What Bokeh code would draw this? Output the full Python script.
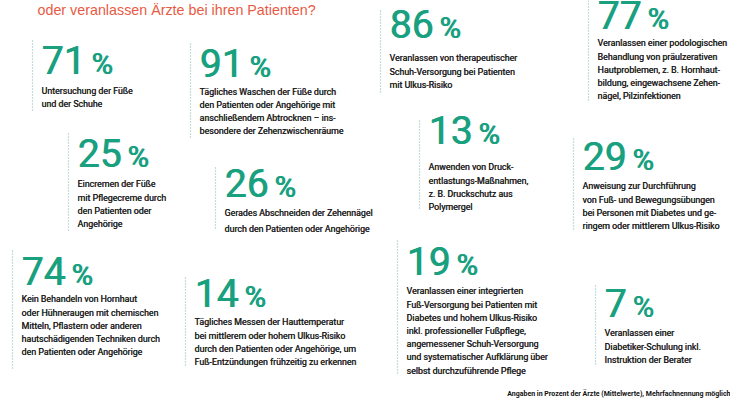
from bokeh.plotting import figure
from bokeh.models import ColumnDataSource, Range1d
from bokeh.core.properties import value
from bokeh.embed import file_html
from bokeh.resources import INLINE

# ---------------- data ----------------
title = "oder veranlassen Ärzte bei ihren Patienten?"
footnote = "Angaben in Prozent der Ärzte (Mittelwerte), Mehrfachnennung möglich"

percent_values = [71, 91, 86, 77, 25, 26, 13, 29, 74, 14, 19, 7]

descriptions = [
    ["Untersuchung der Füße", "und der Schuhe"],
    ["Tägliches Waschen der Füße durch", "den Patienten oder Angehörige mit",
     "anschließendem Abtrocknen – ins-", "besondere der Zehenzwischenräume"],
    ["Veranlassen von therapeutischer", "Schuh-Versorgung bei Patienten",
     "mit Ulkus-Risiko"],
    ["Veranlassen einer podologischen", "Behandlung von präulzerativen",
     "Hautproblemen, z. B. Hornhaut-", "bildung, eingewachsene Zehen-",
     "nägel, Pilzinfektionen"],
    ["Eincremen der Füße", "mit Pflegecreme durch", "den Patienten oder",
     "Angehörige"],
    ["Gerades Abschneiden der Zehennägel", "durch den Patienten oder Angehörige"],
    ["Anwenden von Druck-", "entlastungs-Maßnahmen,", "z. B. Druckschutz aus",
     "Polymergel"],
    ["Anweisung zur Durchführung", "von Fuß- und Bewegungsübungen",
     "bei Personen mit Diabetes und ge-", "ringem oder mittlerem Ulkus-Risiko"],
    ["Kein Behandeln von Hornhaut", "oder Hühneraugen mit chemischen",
     "Mitteln, Pflastern oder anderen", "hautschädigenden Techniken durch",
     "den Patienten oder Angehörige"],
    ["Tägliches Messen der Hauttemperatur", "bei mittlerem oder hohem Ulkus-Risiko",
     "durch den Patienten oder Angehörige, um", "Fuß-Entzündungen frühzeitig zu erkennen"],
    ["Veranlassen einer integrierten", "Fuß-Versorgung bei Patienten mit",
     "Diabetes und hohem Ulkus-Risiko", "inkl. professioneller Fußpflege,",
     "angemessener Schuh-Versorgung", "und systematischer Aufklärung über",
     "selbst durchzuführende Pflege"],
    ["Veranlassen einer", "Diabetiker-Schulung inkl.", "Instruktion der Berater"],
]

# ---------------- layout (picture pixels) ----------------
block_line_x   = [32, 190, 380, 588, 68, 215, 419, 573, 12, 185, 397, 595]
number_base_y  = [74, 77, 38, 29, 167, 197, 144, 170, 285, 307, 275, 317]
desc_first_y   = [92.5, 93.5, 60, 45, 186, 215, 169, 188, 301, 324, 293, 335]
desc_spacing   = [13.2, 13.2, 13.2, 13.2, 13.2, 15.7, 13.2, 13.2, 13.2, 13.2, 13.2, 13.2]
line_top_y     = [40, 43, 10, 0, 133, 167, 120, 138, 250, 277, 240, 285]
line_bottom_y  = [110, 138, 93, 100, 230, 230, 210, 230, 370, 365, 375, 365]

TEXT_OFFSET = 9
NUM_SIZE = 39
PCT_SIZE = 29
DIGIT_W = 0.562 * NUM_SIZE
PCT_GAP = 6
DESC_SIZE = 8.8
TITLE_SIZE = 14.3
FOOT_SIZE = 7
# the renderer places the text's descent line at y: shift up by descent
NUM_DESC = 0.36
ROBOTO_DESC = 0.25
LIB_DESC = 0.21

GREEN = "#18a07f"
RED = "#e85a44"
DOT = "#8bbcb4"
DARK = "#1e1e1e"

BODYFONT = value("Roboto")
NUMFONT = value("Roboto")

p = figure(width=730, height=403, x_range=Range1d(0, 730), y_range=Range1d(403, 0),
           output_backend="svg", toolbar_location=None, min_border=0,
           background_fill_color="white", border_fill_color="white")
p.axis.visible = False
p.grid.visible = False
p.outline_line_color = None

# dotted separators
p.segment(x0=block_line_x, y0=line_top_y, x1=block_line_x, y1=line_bottom_y,
          line_color=DOT, line_width=1.2, line_dash="1 2")

# big numbers (drawn twice, slightly offset, for a medium weight)
num_src = ColumnDataSource(dict(
    x=[lx + TEXT_OFFSET for lx in block_line_x],
    y=[b - NUM_DESC * NUM_SIZE for b in number_base_y],
    t=[str(v) for v in percent_values],
))
pct_src = ColumnDataSource(dict(
    x=[lx + TEXT_OFFSET + len(str(v)) * DIGIT_W + PCT_GAP
       for lx, v in zip(block_line_x, percent_values)],
    y=[b - NUM_DESC * PCT_SIZE for b in number_base_y],
    t=["%"] * len(percent_values),
))
for xo in (0, 0.8):
    p.text(x="x", y="y", text="t", source=num_src, text_font=NUMFONT, x_offset=xo,
           text_font_size=f"{NUM_SIZE}px", text_color=GREEN, text_baseline="alphabetic")
    p.text(x="x", y="y", text="t", source=pct_src, text_font=NUMFONT, x_offset=xo,
           text_font_size=f"{PCT_SIZE}px", text_color=GREEN, text_baseline="alphabetic")

# descriptions (drawn twice with a tiny offset for a slightly heavier weight)
dx, dy, dt = [], [], []
for lx, y0, sp, lines in zip(block_line_x, desc_first_y, desc_spacing, descriptions):
    for i, line in enumerate(lines):
        dx.append(lx + TEXT_OFFSET)
        dy.append(y0 + i * sp - ROBOTO_DESC * DESC_SIZE)
        dt.append(line)
desc_src = ColumnDataSource(dict(x=dx, y=dy, t=dt))
for xo in (0, 0.35):
    p.text(x="x", y="y", text="t", source=desc_src, text_font=BODYFONT, x_offset=xo,
           text_font_size=f"{DESC_SIZE}px", text_color=DARK, text_baseline="alphabetic")

# title and footnote
p.text(x=[37], y=[12.5 - LIB_DESC * TITLE_SIZE], text=[title],
       text_font=value("Liberation Sans"),
       text_font_size=f"{TITLE_SIZE}px", text_color=RED, text_baseline="alphabetic")
p.text(x=[730], y=[395.5 - ROBOTO_DESC * FOOT_SIZE], text=[footnote], text_font=BODYFONT,
       text_font_size=f"{FOOT_SIZE}px",
       text_font_style="bold", text_color="#111111", text_baseline="alphabetic",
       text_align="right")

open("out.html", "w").write(file_html(p, INLINE))
